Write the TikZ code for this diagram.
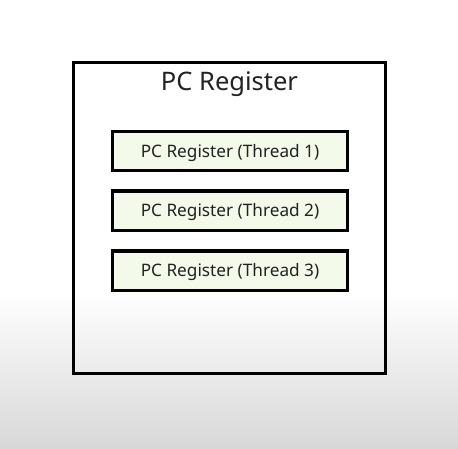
\documentclass[tikz,border=0pt]{standalone}
\usepackage{fontspec}
\setmainfont{Noto Sans}
\usepackage{xcolor}
\usetikzlibrary{positioning}

\definecolor{regfill}{HTML}{F4FAEA}
\definecolor{textgray}{HTML}{222222}
\definecolor{bggray}{HTML}{D8D8D8}

\begin{document}
\begin{tikzpicture}[x=1pt,y=-1pt,
  regbox/.style={draw=black, line width=3.4pt, fill=regfill, text=textgray,
    minimum width=235pt, minimum height=39.5pt, inner sep=0pt,
    text height=12pt, text depth=0pt, font=\fontsize{17.2}{17.2}\selectfont},
  node distance=17pt]
  % Background
  \useasboundingbox (0,0) rectangle (458,448);
  \fill[white] (0,0) rectangle (458,290);
  \shade[top color=white, bottom color=bggray] (0,290) rectangle (458,448);

  % Outer rectangle
  \draw[line width=3pt] (73.5,62) rectangle (385.5,373.5);
  \node[anchor=base, text=textgray, font=\fontsize{25.5}{25.5}\selectfont]
    (title) at (229.5,90.5) {PC Register};

  % Per-thread registers
  \node[regbox] (thread1) at (230,151) {PC Register (Thread 1)};
  \node[regbox, below=of thread1] (thread2) {PC Register (Thread 2)};
  \node[regbox, below=of thread2] (thread3) {PC Register (Thread 3)};
\end{tikzpicture}
\end{document}
